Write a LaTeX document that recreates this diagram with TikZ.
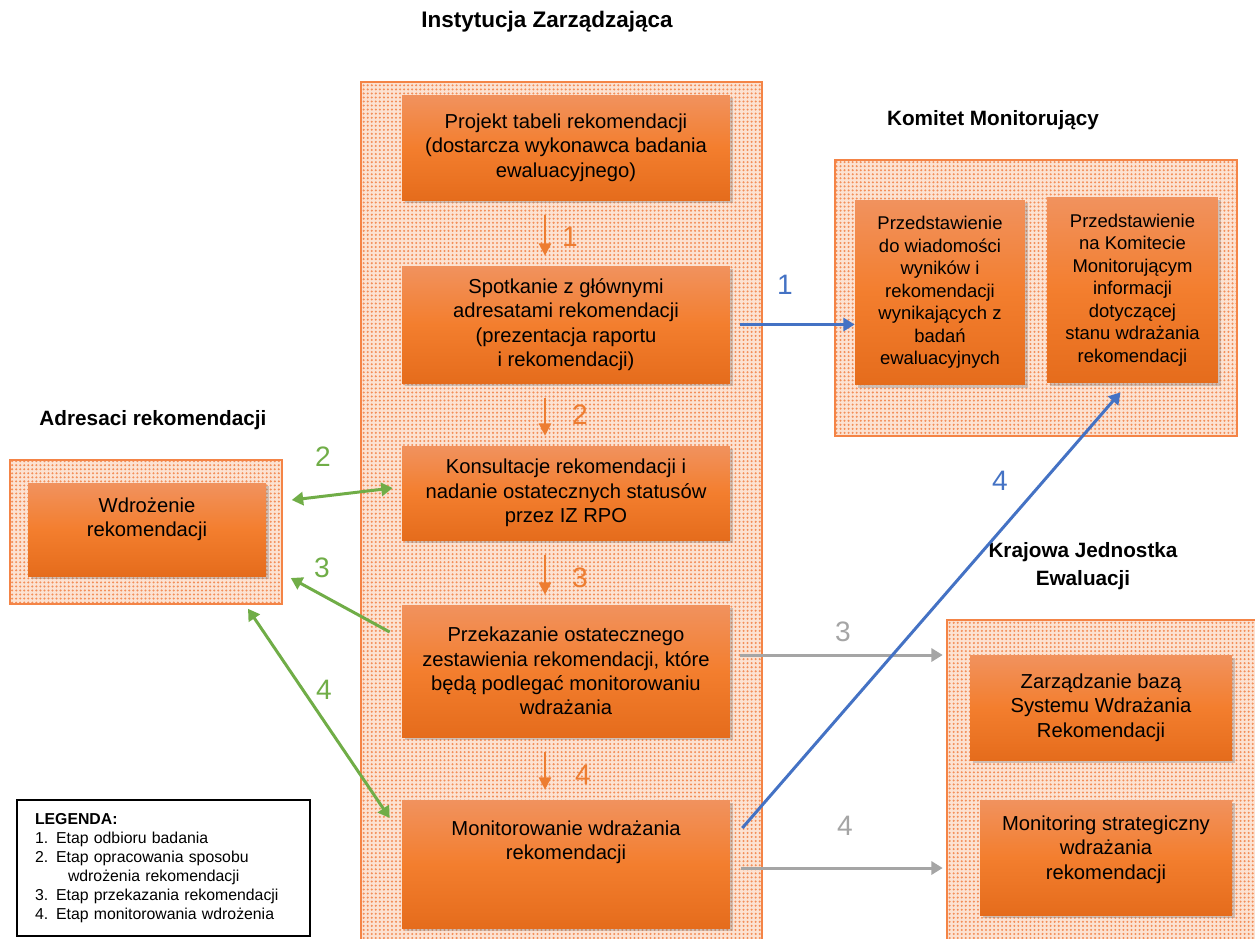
\documentclass[tikz,border=0pt]{standalone}
\usepackage{fontspec}
\setmainfont{Liberation Sans}
\usetikzlibrary{calc,arrows.meta,patterns,shadows}
\definecolor{boxtop}{RGB}{241,146,94}
\definecolor{boxmid}{RGB}{243,126,46}
\definecolor{boxbot}{RGB}{229,108,28}
\definecolor{zoneline}{RGB}{244,132,70}
\definecolor{zonefill}{RGB}{252,226,210}
\definecolor{dotcol}{RGB}{243,142,88}
\definecolor{orangearr}{RGB}{237,125,49}
\definecolor{bluearr}{RGB}{68,114,196}
\definecolor{greenarr}{RGB}{112,173,71}
\definecolor{grayarr}{RGB}{165,165,165}
\newcommand{\boxfont}{\fontsize{11.5}{13.9}\selectfont}
\newcommand{\kmfont}{\fontsize{10.5}{12.8}\selectfont}
\newcommand{\numfont}{\fontsize{16}{19}\selectfont}
\newcommand{\legendfont}{\fontsize{9}{10.8}\selectfont}
\newcommand{\arrowwidth}{1.7pt}
\pgfdeclarepatternformonly{finedots}{\pgfpoint{-1pt}{-1pt}}{\pgfpoint{1pt}{1pt}}{\pgfpoint{2.3pt}{2.3pt}}{\pgfpathcircle{\pgfpointorigin}{0.65pt}\pgfusepath{fill}}

\begin{document}
\begin{tikzpicture}[x=0.02cm, y=-0.02cm,
    zone/.style={draw=zoneline, line width=0.9pt, preaction={fill=zonefill}, pattern=finedots, pattern color=dotcol},
    box/.style={top color=boxtop, bottom color=boxbot, middle color=boxmid, align=center, font=\boxfont,
      drop shadow={shadow xshift=1.5pt, shadow yshift=-1.5pt, opacity=0.35}},
    heading/.style={font=\fontsize{11.8}{16}\selectfont\bfseries, align=center},
    num/.style={font=\numfont},
    down/.style={orangearr, line width=0.9pt, -{Triangle[width=7pt,length=7pt]}, shorten <=0.3cm, shorten >=0.2cm},
    link/.style={line width=\arrowwidth, -{Triangle[width=7.5pt,length=6.5pt]}}]

    \useasboundingbox (0,0) rectangle (1255,938);

    % zones
    \node (iz) at (561.5,513.5) [zone, minimum width=8.02cm, minimum height=17.26cm] {};
    \node (km) at (1036,298) [zone, minimum width=8.04cm, minimum height=5.52cm] {};
    \node (adr) at (146,532) [zone, minimum width=5.44cm, minimum height=2.88cm] {};
    \node (kje) at (1104.5,782.5) [zone, minimum width=6.3cm, minimum height=6.5cm] {};

    % headings
    \node (tiz) at (547,22) [heading, font=\fontsize{12.8}{16}\selectfont\bfseries] {Instytucja Zarządzająca};
    \node (tkm) at (993,120) [heading] {Komitet Monitorujący};
    \node (tadr) at (153,420) [heading] {Adresaci rekomendacji};
    \node (tkje) at (1083,566) [heading] {Krajowa Jednostka\\Ewaluacji};

    % Instytucja Zarzadzajaca
    \node (b1) at (566,147.5) [box, minimum width=6.56cm, minimum height=2.1cm] {Projekt tabeli rekomendacji\\(dostarcza wykonawca badania\\ewaluacyjnego)};
    \node (b2) at (566,324.5) [box, minimum width=6.56cm, minimum height=2.34cm] {Spotkanie z głównymi\\adresatami rekomendacji\\(prezentacja raportu\\i rekomendacji)};
    \node (b3) at (566,493) [box, minimum width=6.56cm, minimum height=1.88cm] {Konsultacje rekomendacji i\\nadanie ostatecznych statusów\\przez IZ RPO};
    \node (b4) at (566,671) [box, minimum width=6.56cm, minimum height=2.64cm] {Przekazanie ostatecznego\\zestawienia rekomendacji, które\\będą podlegać monitorowaniu\\wdrażania};
    \node (b5) at (566,864) [box, minimum width=6.56cm, minimum height=2.56cm, text depth=0.95cm] {Monitorowanie wdrażania\\rekomendacji};

    % Komitet Monitorujacy
    \node (km1) at (940,292.5) [box, font=\kmfont, minimum width=3.4cm, minimum height=3.7cm] {Przedstawienie\\do wiadomości\\wyników i\\rekomendacji\\wynikających z\\badań\\ewaluacyjnych};
    \node (km2) at (1132.5,290) [box, font=\kmfont, minimum width=3.42cm, minimum height=3.72cm] {Przedstawienie\\na Komitecie\\Monitorującym\\informacji\\dotyczącej\\stanu wdrażania\\rekomendacji};

    % Adresaci
    \node (wdr) at (147,529.5) [box, minimum width=4.76cm, minimum height=1.86cm, text depth=0.5cm] {Wdrożenie\\rekomendacji};

    % KJE
    \node (kje1) at (1101,707.5) [box, minimum width=5.24cm, minimum height=2.1cm] {Zarządzanie bazą\\Systemu Wdrażania\\Rekomendacji};
    \node (kje2) at (1106,857.5) [box, minimum width=5.04cm, minimum height=2.3cm, text depth=0.4cm] {Monitoring strategiczny\\wdrażania\\rekomendacji};

    % steps inside IZ
    \draw[down] ([xshift=-0.42cm]b1.south) -- ([xshift=-0.42cm]b2.north);
    \draw[down] ([xshift=-0.42cm]b2.south) -- ([xshift=-0.42cm]b3.north);
    \draw[down] ([xshift=-0.42cm]b3.south) -- ([xshift=-0.42cm]b4.north);
    \draw[down] ([xshift=-0.42cm]b4.south) -- ([xshift=-0.42cm]b5.north);
    \node (n1) at (570,237) [num, orangearr] {1};
    \node (n2) at (580,415) [num, orangearr] {2};
    \node (n3) at (580,578) [num, orangearr] {3};
    \node (n4) at (583,775) [num, orangearr] {4};

    % to KJE
    \draw[link, grayarr, shorten >=2pt] ([shift={(10,-16)}]b4.east) coordinate (g3) -- (g3 -| kje.west);
    \draw[link, grayarr, shorten >=2pt] ([shift={(11,4)}]b5.east) coordinate (g4) -- (g4 -| kje.west);
    \node (ng3) at (843,632) [num, grayarr] {3};
    \node (ng4) at (845,826) [num, grayarr] {4};

    % to KM
    \draw[link, bluearr] ([xshift=0.2cm]b2.east) -- (b2.east -| km1.west);
    \draw[link, bluearr] ([shift={(12,-36)}]b5.east) -- ([shift={(-12,9)}]km2.south);
    \node (nb1) at (785,285) [num, bluearr] {1};
    \node (nb4) at (1000,481) [num, bluearr] {4};

    % to Adresaci
    \draw[link, greenarr, {Triangle[width=7.5pt,length=6.5pt]}-{Triangle[width=7.5pt,length=6.5pt]}] ([shift={(9,-32)}]adr.east) -- ([shift={(-9,-5)}]b3.west);
    \draw[link, greenarr] ([shift={(-12,-39)}]b4.west) -- ([shift={(8,46)}]adr.east);
    \draw[link, greenarr, {Triangle[width=7.5pt,length=6.5pt]}-{Triangle[width=7.5pt,length=6.5pt]}] ([shift={(102,4)}]adr.south) -- ([shift={(-12,-46)}]b5.west);
    \node (ng2) at (323,457) [num, greenarr] {2};
    \node (ngr3) at (322,568) [num, greenarr] {3};
    \node (ngr4) at (324,690) [num, greenarr] {4};

    % legend
    \node (legend) at (163.5,868) [draw, line width=1.1pt, minimum width=5.86cm, minimum height=2.72cm, text width=5.14cm, align=left, font=\legendfont]
      {\textbf{LEGENDA:}\\1. Etap odbioru badania\\2. Etap opracowania sposobu\\\hspace*{0.66cm}wdrożenia rekomendacji\\3. Etap przekazania rekomendacji\\4. Etap monitorowania wdrożenia};

\end{tikzpicture}
\end{document}
